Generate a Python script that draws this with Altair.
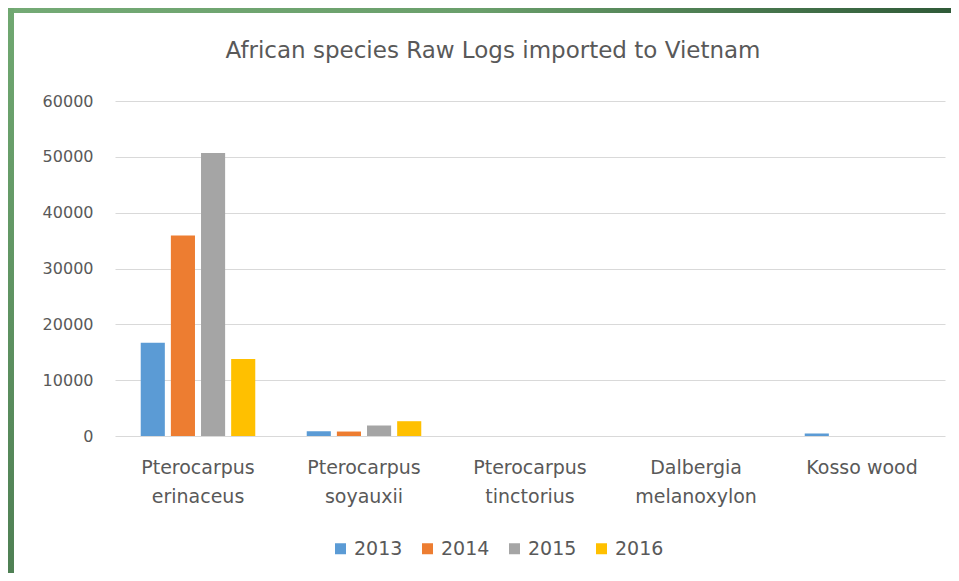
import altair as alt
import pandas as pd

species = ["Pterocarpus erinaceus", "Pterocarpus soyauxii", "Pterocarpus tinctorius",
           "Dalbergia melanoxylon", "Kosso wood"]
years = ["2013", "2014", "2015", "2016"]
v2013 = [16700, 850, 0, 0, 450]
v2014 = [35900, 800, 0, 0, 0]
v2015 = [50700, 1900, 0, 0, 0]
v2016 = [13800, 2650, 0, 0, 0]
colors = ["#5b9bd5", "#ed7d31", "#a5a5a5", "#ffc000"]
y_ticks = [0, 10000, 20000, 30000, 40000, 50000, 60000]
title_text = "African species Raw Logs imported to Vietnam"

rows = []
for yr, vals in zip(years, [v2013, v2014, v2015, v2016]):
    for sp, v in zip(species, vals):
        rows.append({"species": sp, "year": yr, "value": v})
df = pd.DataFrame(rows)

FONT = "DejaVu Sans"
TXT = "#595959"
W, H = 830, 335

label_expr = ("datum.value == 'Kosso wood' ? 'Kosso wood' : split(datum.value, ' ')")

bars = alt.Chart(df).mark_bar().encode(
    x=alt.X("species:N", sort=species, title=None,
            scale=alt.Scale(paddingInner=0.31, paddingOuter=0.155),
            axis=alt.Axis(labelExpr=label_expr, labelAngle=0, labelFont=FONT,
                          labelFontSize=19, labelColor=TXT, labelLineHeight=29,
                          labelPadding=22, ticks=False, domain=False, grid=False,
                          labelLimit=300)),
    xOffset=alt.XOffset("year:N", sort=years, scale=alt.Scale(paddingInner=0.2)),
    y=alt.Y("value:Q", title=None,
            scale=alt.Scale(domain=[0, 60000], nice=False),
            axis=alt.Axis(values=y_ticks, format="d", labelFont=FONT, labelFontSize=16,
                          labelColor=TXT, labelPadding=22, ticks=False, domain=False,
                          gridColor="#d9d9d9", gridWidth=1)),
    color=alt.Color("year:N", sort=years, scale=alt.Scale(domain=years, range=colors),
                    legend=alt.Legend(title=None, orient="none", direction="horizontal",
                                      legendX=216, legendY=438, symbolType="square",
                                      symbolSize=121, symbolStrokeWidth=0,
                                      labelFont=FONT, labelFontSize=19, labelColor=TXT,
                                      labelOffset=4, columnPadding=15)),
)

frame_df = pd.DataFrame({"k": [0]})
title_df = pd.DataFrame({"t": [title_text]})

title = alt.Chart(title_df).mark_text(
    font=FONT, fontSize=23, color=TXT, align="center", baseline="alphabetic"
).encode(text="t:N", x=alt.value(378), y=alt.value(-43))

top_strip = alt.Chart(frame_df).mark_rect(
    color=alt.LinearGradient(gradient="linear",
                             stops=[alt.GradientStop(color="#74aa75", offset=0),
                                    alt.GradientStop(color="#6a9f6b", offset=0.5),
                                    alt.GradientStop(color="#2f5a38", offset=1)],
                             x1=0, x2=1, y1=0, y2=0)
).encode(x=alt.value(-107), x2=alt.value(836), y=alt.value(-93), y2=alt.value(-88))

left_strip = alt.Chart(frame_df).mark_rect(
    color=alt.LinearGradient(gradient="linear",
                             stops=[alt.GradientStop(color="#70a871", offset=0),
                                    alt.GradientStop(color="#4f8054", offset=1)],
                             x1=0, x2=0, y1=0, y2=1)
).encode(x=alt.value(-107), x2=alt.value(-101), y=alt.value(-93), y2=alt.value(472))

chart = alt.layer(bars, title, top_strip, left_strip).properties(
    width=W, height=H,
    autosize=alt.AutoSizeParams(type="none"),
    padding={"left": 107, "top": 93, "right": 6, "bottom": 137},
    background="white",
).configure_view(stroke=None)

chart.save("out.html", embed_options={"renderer": "svg", "actions": False})
